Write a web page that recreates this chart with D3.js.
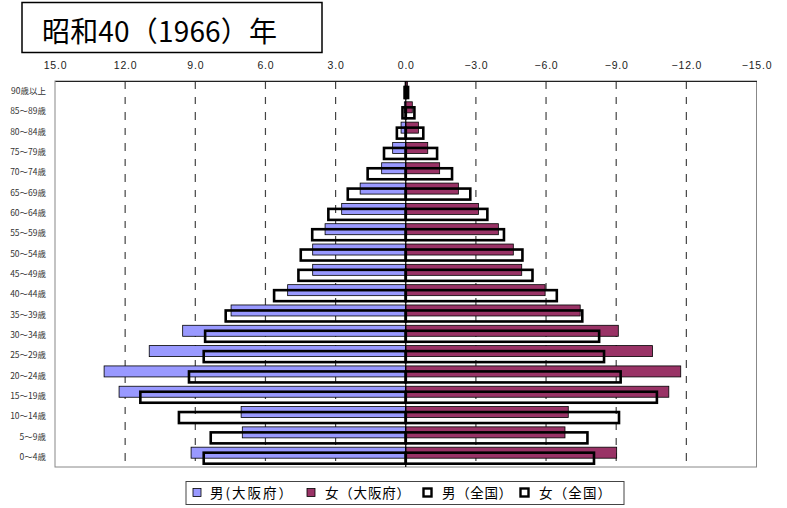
<!DOCTYPE html>
<html>
<head>
<meta charset="utf-8">
<script src="https://cdn.jsdelivr.net/npm/d3@7"></script>
<style>
  html, body { margin: 0; padding: 0; background: #fff; }
  svg { display: block; }
  text { font-family: "Liberation Sans", Arial, "Noto Sans CJK JP", sans-serif; }
  .jp { font-family: "Noto Sans CJK JP", sans-serif; }
</style>
</head>
<body>
<svg id="chart" width="787" height="508"></svg>
<script>
// ---- data (percent of population) ----
const titleText = "昭和40（1966）年";
const ageGroups = ["90歳以上","85～89歳","80～84歳","75～79歳","70～74歳","65～69歳","60～64歳",
  "55～59歳","50～54歳","45～49歳","40～44歳","35～39歳","30～34歳","25～29歳","20～24歳",
  "15～19歳","10～14歳","5～9歳","0～4歳"];
const maleOsaka     = [0.03,0.06,0.20,0.56,1.03,1.95,2.74,3.45,3.98,3.98,5.05,7.47,9.54,10.97,12.90,12.26,7.04,6.99,9.18];
const femaleOsaka   = [0.07,0.28,0.54,0.94,1.45,2.25,3.11,3.96,4.60,4.96,5.96,7.46,9.09,10.55,11.76,11.25,6.95,6.81,9.02];
const maleNational  = [0.05,0.14,0.38,0.93,1.63,2.48,3.31,4.00,4.49,4.59,5.63,7.70,8.58,8.64,9.27,11.35,9.70,8.34,8.64];
const femaleNational= [0.10,0.37,0.75,1.34,1.98,2.76,3.49,4.20,4.99,5.42,6.46,7.55,8.27,8.48,9.19,10.74,9.12,7.77,8.05];
const tickValues = [15,12,9,6,3,0,-3,-6,-9,-12,-15];
const legendLabels = ["男(大阪府）","女（大阪府）","男（全国）","女（全国）"];

// ---- layout ----
const svg = d3.select("#chart");
const pL = 55, pR = 756.5, pT = 81, pB = 467;
const x = d3.scaleLinear().domain([15, -15]).range([pL, pR]);
const y = d3.scaleBand().domain(ageGroups).range([pT, pB]).padding(0);
const bw = y.bandwidth();
const barH = 11;
const colMale = "#9999FF", colFemale = "#993366";

// title
svg.append("rect").attr("x", 22).attr("y", 2.5).attr("width", 300).attr("height", 50)
  .attr("fill", "#fff").attr("stroke", "#000").attr("stroke-width", 1.5);
svg.append("text").attr("class", "jp").attr("x", 42).attr("y", 42)
  .attr("font-size", 28).attr("fill", "#000")
  .attr("textLength", 235).attr("lengthAdjust", "spacing").text(titleText);

// plot border
svg.append("rect").attr("x", pL).attr("y", pT).attr("width", pR - pL).attr("height", pB - pT)
  .attr("fill", "none").attr("stroke", "#888").attr("stroke-width", 1);

// gridlines (dashed)
svg.append("g").selectAll("line").data(tickValues.filter(d => d !== 0 && Math.abs(d) !== 15)).join("line")
  .attr("x1", d => x(d)).attr("x2", d => x(d)).attr("y1", pT).attr("y2", pB)
  .attr("stroke", "#444").attr("stroke-width", 1.2).attr("stroke-dasharray", "8,8,7,8");

// top axis
const axis = d3.axisTop(x).tickValues(tickValues).tickSize(0).tickPadding(0)
  .tickFormat(d => d < 0 ? "\u2212" + d3.format(".1f")(-d) : d3.format(".1f")(d));
const ag = svg.append("g").attr("transform", `translate(0,${pT})`).call(axis);
ag.select(".domain").attr("stroke", "#222").attr("stroke-width", 1.2);
ag.selectAll("text").attr("y", -12).attr("font-size", 10.5).attr("letter-spacing", "0.8px")
  .attr("fill", "#222").attr("font-family", "'Liberation Sans', Arial, sans-serif");

// category labels
svg.append("g").selectAll("text").data(ageGroups).join("text")
  .attr("class", "jp")
  .attr("x", 46).attr("y", d => y(d) + bw / 2 + 3)
  .attr("text-anchor", "end").attr("font-size", 8.5).attr("fill", "#333").text(d => d);

// Osaka bars (filled)
const g = svg.append("g");
g.selectAll("rect.mo").data(ageGroups).join("rect").attr("class", "mo")
  .attr("x", (d, i) => x(maleOsaka[i])).attr("y", d => y(d) + 0.5)
  .attr("width", (d, i) => x(0) - x(maleOsaka[i])).attr("height", barH)
  .attr("fill", colMale).attr("stroke", "#000").attr("stroke-width", 0.8);
g.selectAll("rect.fo").data(ageGroups).join("rect").attr("class", "fo")
  .attr("x", x(0)).attr("y", d => y(d) + 0.5)
  .attr("width", (d, i) => x(-femaleOsaka[i]) - x(0)).attr("height", barH)
  .attr("fill", colFemale).attr("stroke", "#000").attr("stroke-width", 0.8);

// National bars (outline)
g.selectAll("rect.mn").data(ageGroups).join("rect").attr("class", "mn")
  .attr("x", (d, i) => x(maleNational[i])).attr("y", d => y(d) + 6)
  .attr("width", (d, i) => x(0) - x(maleNational[i])).attr("height", barH)
  .attr("fill", "none").attr("stroke", "#000").attr("stroke-width", 2.6);
g.selectAll("rect.fn").data(ageGroups).join("rect").attr("class", "fn")
  .attr("x", x(0)).attr("y", d => y(d) + 6)
  .attr("width", (d, i) => x(-femaleNational[i]) - x(0)).attr("height", barH)
  .attr("fill", "none").attr("stroke", "#000").attr("stroke-width", 2.6);

// zero line
svg.append("line").attr("x1", x(0)).attr("x2", x(0)).attr("y1", pT).attr("y2", pB)
  .attr("stroke", "#000").attr("stroke-width", 1.2);

// legend
svg.append("rect").attr("x", 186).attr("y", 481.5).attr("width", 438).attr("height", 23)
  .attr("fill", "#fff").attr("stroke", "#444").attr("stroke-width", 1);
const legSq = [193, 307, 423.5, 520.5];
const legTx = [210, 325, 442, 539];
const legW = [82, 85, 70, 72];
const legFill = [colMale, colFemale, "#fff", "#fff"];
const legStroke = [0.8, 0.8, 2.4, 2.4];
const lg = svg.append("g");
legendLabels.forEach((lab, i) => {
  lg.append("rect").attr("x", legSq[i]).attr("y", 488.5).attr("width", 8).attr("height", 8)
    .attr("fill", legFill[i]).attr("stroke", "#000").attr("stroke-width", legStroke[i]);
  lg.append("text").attr("class", "jp").attr("x", legTx[i]).attr("y", 498)
    .attr("font-size", 13.5).attr("fill", "#000")
    .attr("textLength", legW[i]).attr("lengthAdjust", "spacing").text(lab);
});
</script>
</body>
</html>
